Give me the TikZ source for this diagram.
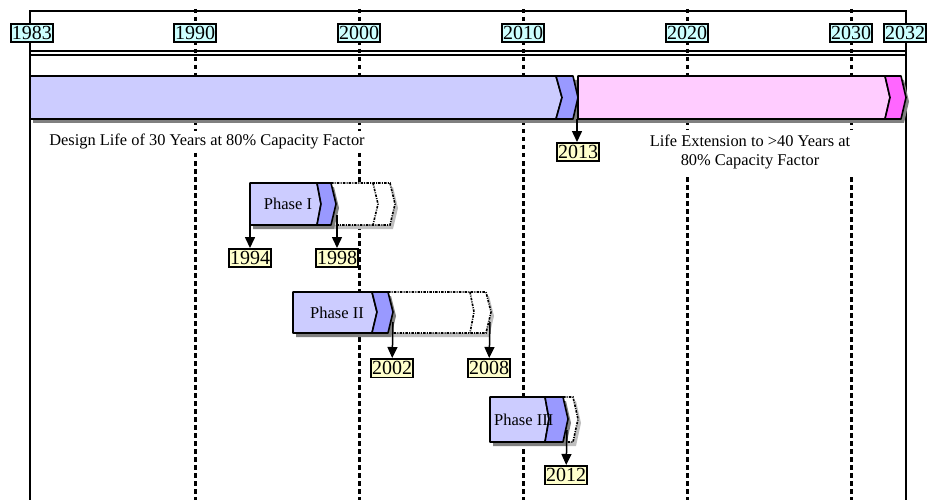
\documentclass[tikz,border=0pt]{standalone}
\usepackage{fontspec}
\setmainfont{Liberation Serif}
\usetikzlibrary{arrows.meta}

\definecolor{bleuclair}{HTML}{CCCCFF}
\definecolor{bleufonce}{HTML}{9999FF}
\definecolor{roseclair}{HTML}{FFCCFF}
\definecolor{rosefonce}{HTML}{FF66FF}
\definecolor{cyanclair}{HTML}{CCFFFF}
\definecolor{jaune}{HTML}{FFFFCC}

\tikzset{
  cadre/.style={line width=1.5pt},
  repere/.style={line width=3pt, dash pattern=on 4.5pt off 3.5pt},
  bord/.style={line width=1.6pt, line join=round},
  ombre/.style={fill=black!50},
  ombreclaire/.style={fill=black!25},
  prevu/.style={line width=1.6pt, dash pattern=on 2.5pt off 1.2pt on 1pt off 1.2pt, fill=white},
  annee/.style={draw, line width=1.5pt, fill=cyanclair, inner xsep=1pt, inner ysep=2.5pt,
    font=\fontsize{20}{22}\selectfont},
  date/.style={annee, fill=jaune},
  texte/.style={fill=white, inner sep=2pt, font=\fontsize{16.4}{19.5}\selectfont},
  phase/.style={font=\fontsize{16.5}{19}\selectfont},
  fleche/.style={line width=1.5pt, -{Triangle[length=11pt,width=10pt]}}
}

\begin{document}
\begin{tikzpicture}[x=1pt,y=-1pt]
  \useasboundingbox (0,0) rectangle (929,500);

  % Reperes des decennies
  \draw[repere] (195,9) -- (195,500);
  \draw[repere] (359,9) -- (359,500);
  \draw[repere] (523,9) -- (523,500);
  \draw[repere] (687,9) -- (687,500);
  \draw[repere] (851,9) -- (851,500);

  % Cadre
  \draw[cadre] (30,500) -- (30,11) -- (906,11) -- (906,500);
  \draw[cadre] (30,51) -- (906,51);
  \draw[cadre] (30,55) -- (906,55);

  % Annees
  \node[annee] (a1983) at (32,33) {1983};
  \node[annee] (a1990) at (195,33) {1990};
  \node[annee] (a2000) at (359,33) {2000};
  \node[annee] (a2010) at (523,33) {2010};
  \node[annee] (a2020) at (687,33) {2020};
  \node[annee] (a2030) at (851,33) {2030};
  \node[annee] (a2032) at (905,33) {2032};

  % Barre principale
  \fill[ombre] (33,80) -- (904,80) -- (909,101.5) -- (904,123) -- (33,123) -- cycle;
  \filldraw[bord, fill=bleuclair] (30,76) -- (556,76) -- (562,97.5) -- (556,119) -- (30,119) -- cycle;
  \filldraw[bord, fill=bleufonce] (556,76) -- (573,76) -- (578,97.5) -- (573,119) -- (556,119) -- (562,97.5) -- cycle;
  \filldraw[bord, fill=roseclair] (578,76) -- (885,76) -- (890,97.5) -- (885,119) -- (578,119) -- cycle;
  \filldraw[bord, fill=rosefonce] (885,76) -- (901,76) -- (906,97.5) -- (901,119) -- (885,119) -- (890,97.5) -- cycle;
  \coordinate (fin) at (577,119);

  \node[texte] (vie) at (207,141) {Design Life of 30 Years at 80\% Capacity Factor};
  \node[texte, align=center, inner xsep=6pt, inner ysep=5pt] (prolong) at (750,152) {Life Extension to >40 Years at\\80\% Capacity Factor};

  \node[date] (a2013) at (578,152) {2013};
  \draw[fleche] (fin) -- (fin |- a2013.north);

  % Phase I
  \fill[ombreclaire] (334,187) -- (393,187) -- (398,208) -- (393,229) -- (334,229) -- cycle;
  \draw[prevu] (331,183) -- (390,183) -- (395,204) -- (390,225) -- (331,225) -- cycle;
  \draw[prevu, fill=none] (373,183) -- (378,204) -- (373,225);
  \fill[ombre] (253,187) -- (334,187) -- (339,208) -- (334,229) -- (253,229) -- cycle;
  \filldraw[bord, fill=bleuclair] (250,183) -- (317,183) -- (321,204) -- (317,225) -- (250,225) -- cycle;
  \filldraw[bord, fill=bleufonce] (317,183) -- (331,183) -- (336,204) -- (331,225) -- (317,225) -- (321,204) -- cycle;
  \node[phase] (p1) at (288,204) {Phase I};
  \coordinate (p1a) at (250,225);
  \coordinate (p1b) at (337,215);
  \node[date] (a1994) at (250,258) {1994};
  \node[date] (a1998) at (337,258) {1998};
  \draw[fleche] (p1a) -- (a1994);
  \draw[fleche] (p1b) -- (a1998);

  % Phase II
  \fill[ombreclaire] (391,296) -- (489,296) -- (494,316) -- (489,337) -- (391,337) -- cycle;
  \draw[prevu] (388,292) -- (486,292) -- (491,312) -- (486,333) -- (388,333) -- cycle;
  \draw[prevu, fill=none] (470,292) -- (474,312) -- (470,333);
  \fill[ombre] (296,296) -- (391,296) -- (396,316) -- (391,337) -- (296,337) -- cycle;
  \filldraw[bord, fill=bleuclair] (293,292) -- (372,292) -- (377,312) -- (372,333) -- (293,333) -- cycle;
  \filldraw[bord, fill=bleufonce] (372,292) -- (388,292) -- (393,312) -- (388,333) -- (372,333) -- (377,312) -- cycle;
  \node[phase] (p2) at (337,313) {Phase II};
  \coordinate (p2a) at (393,322);
  \coordinate (p2b) at (490,322);
  \node[date] (a2002) at (392,368) {2002};
  \node[date] (a2008) at (489,368) {2008};
  \draw[fleche] (p2a) -- (a2002);
  \draw[fleche] (p2b) -- (a2008);

  % Phase III
  \fill[ombreclaire] (566,401) -- (576,401) -- (581,423) -- (576,446) -- (566,446) -- cycle;
  \draw[prevu] (563,397) -- (573,397) -- (578,419) -- (573,442) -- (563,442) -- cycle;
  \fill[ombre] (493,401) -- (566,401) -- (571,423) -- (566,446) -- (493,446) -- cycle;
  \filldraw[bord, fill=bleuclair] (490,397) -- (545,397) -- (549,419) -- (545,442) -- (490,442) -- cycle;
  \filldraw[bord, fill=bleufonce] (545,397) -- (563,397) -- (568,419) -- (563,442) -- (545,442) -- (549,419) -- cycle;
  \node[phase, anchor=west, inner sep=0pt] (p3) at (494,420) {Phase III};
  \coordinate (p3a) at (567,430);
  \node[date] (a2012) at (566,475) {2012};
  \draw[fleche] (p3a) -- (a2012);
\end{tikzpicture}
\end{document}
